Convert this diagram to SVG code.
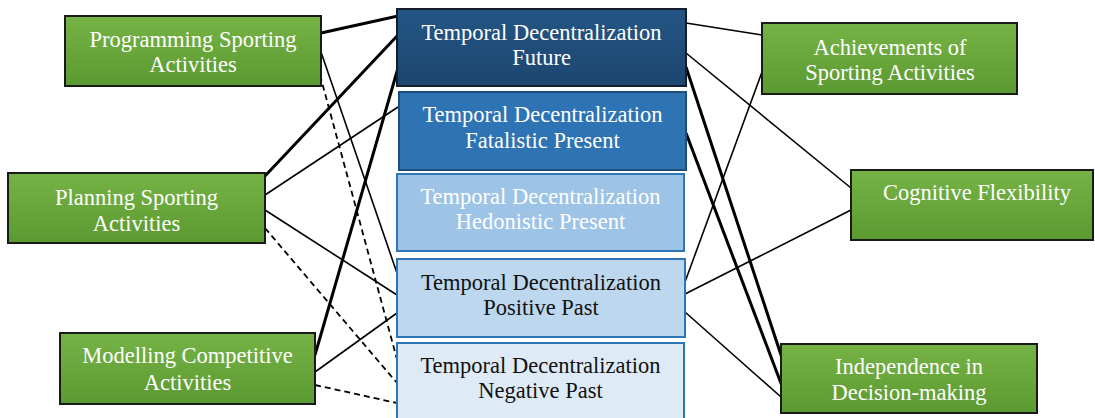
<svg xmlns="http://www.w3.org/2000/svg" width="1095" height="418" viewBox="0 0 1095 418">
  <defs>
    <linearGradient id="gGreen" x1="0" y1="0" x2="0" y2="1">
      <stop offset="0" stop-color="#76b346"/>
      <stop offset="1" stop-color="#5b9a31"/>
    </linearGradient>
    <linearGradient id="gNavy" x1="0" y1="0" x2="0" y2="1">
      <stop offset="0" stop-color="#245685"/>
      <stop offset="1" stop-color="#1c466f"/>
    </linearGradient>
    <style>
      .green rect { fill: url(#gGreen); stroke: #1a1a1a; stroke-width: 2; }
      text { font-family: "Liberation Serif", "Times New Roman", serif; font-size: 22.5px; text-anchor: middle; }
      .light { fill: #ffffff; }
      .dark { fill: #111111; }
      .thick { stroke: #000; stroke-width: 3; fill: none; }
      .thin { stroke: #000; stroke-width: 1.6; fill: none; }
      .dash { stroke: #000; stroke-width: 1.8; fill: none; stroke-dasharray: 6 4; }
    </style>
  </defs>
  <rect width="1095" height="418" fill="#ffffff"/>

  <!-- connectors -->
  <g id="connectors">
    <line class="thick" x1="321" y1="33" x2="398" y2="16"/>
    <line class="thin" x1="321" y1="52" x2="398" y2="276"/>
    <line class="dash" x1="320" y1="75" x2="398" y2="363"/>
    <line class="thick" x1="265" y1="176" x2="398" y2="35"/>
    <line class="thin" x1="265" y1="195" x2="398" y2="107"/>
    <line class="thin" x1="265" y1="210" x2="397" y2="295"/>
    <line class="dash" x1="265" y1="228" x2="397" y2="383"/>
    <line class="thick" x1="315" y1="355" x2="398" y2="68"/>
    <line class="thin" x1="315" y1="372" x2="397" y2="313"/>
    <line class="dash" x1="315" y1="385" x2="397" y2="403"/>
    <line class="thin" x1="686" y1="23" x2="762" y2="35"/>
    <line class="thin" x1="686" y1="53" x2="851" y2="188"/>
    <line class="thick" x1="686" y1="67" x2="782" y2="358"/>
    <line class="thick" x1="686" y1="133" x2="782" y2="386"/>
    <line class="thin" x1="685" y1="282" x2="762" y2="72"/>
    <line class="thin" x1="685" y1="294" x2="851" y2="210"/>
    <line class="thin" x1="685" y1="312" x2="781" y2="397"/>
  </g>

  <!-- left column -->
  <g id="programming" class="green">
    <rect x="65" y="16" width="256" height="70"/>
    <text class="light" x="193" y="47">Programming Sporting</text>
    <text class="light" x="193" y="72">Activities</text>
  </g>
  <g id="planning" class="green">
    <rect x="8" y="173" width="257" height="70"/>
    <text class="light" x="136.5" y="205">Planning Sporting</text>
    <text class="light" x="136.5" y="231">Activities</text>
  </g>
  <g id="modelling" class="green">
    <rect x="60" y="333" width="255" height="71"/>
    <text class="light" x="187.5" y="363">Modelling Competitive</text>
    <text class="light" x="187.5" y="390">Activities</text>
  </g>

  <!-- middle column -->
  <g id="future">
    <rect x="397" y="9" width="289" height="77" fill="url(#gNavy)" stroke="#151f2b" stroke-width="2"/>
    <text class="light" x="541.5" y="40">Temporal Decentralization</text>
    <text class="light" x="541.5" y="65">Future</text>
  </g>
  <g id="fatalistic">
    <rect x="399" y="92" width="287" height="78" fill="#2e73b4" stroke="#1f4e79" stroke-width="2"/>
    <text class="light" x="542.5" y="122">Temporal Decentralization</text>
    <text class="light" x="542.5" y="148">Fatalistic Present</text>
  </g>
  <g id="hedonistic">
    <rect x="397" y="174" width="287" height="77" fill="#9dc3e6" stroke="#2e75b6" stroke-width="2"/>
    <text class="light" x="540.5" y="204">Temporal Decentralization</text>
    <text class="light" x="540.5" y="229">Hedonistic Present</text>
  </g>
  <g id="positive-past">
    <rect x="397" y="259" width="288" height="78" fill="#bdd7ee" stroke="#2e75b6" stroke-width="2"/>
    <text class="dark" x="541" y="290">Temporal Decentralization</text>
    <text class="dark" x="541" y="315">Positive Past</text>
  </g>
  <g id="negative-past">
    <rect x="397" y="343" width="287" height="80" fill="#deebf7" stroke="#2e75b6" stroke-width="2"/>
    <text class="dark" x="540.5" y="373">Temporal Decentralization</text>
    <text class="dark" x="540.5" y="398">Negative Past</text>
  </g>

  <!-- right column -->
  <g id="achievements" class="green">
    <rect x="762" y="23" width="255" height="71"/>
    <text class="light" x="890" y="55">Achievements of</text>
    <text class="light" x="890" y="80">Sporting Activities</text>
  </g>
  <g id="cognitive" class="green">
    <rect x="851" y="170" width="242" height="70"/>
    <text class="light" x="977" y="200">Cognitive Flexibility</text>
  </g>
  <g id="independence" class="green">
    <rect x="781" y="344" width="256" height="69"/>
    <text class="light" x="909" y="374">Independence in</text>
    <text class="light" x="909" y="400">Decision-making</text>
  </g>
</svg>
